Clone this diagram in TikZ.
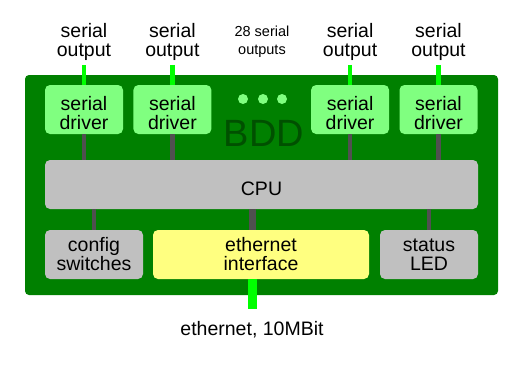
\documentclass[tikz,border=0pt]{standalone}
\usepackage{fontspec}
\setmainfont{Liberation Sans}
\usetikzlibrary{positioning}

\definecolor{boardgreen}{RGB}{0,128,0}
\definecolor{drvgreen}{RGB}{128,255,128}
\definecolor{wiregreen}{RGB}{0,255,0}
\definecolor{cpugray}{RGB}{192,192,192}
\definecolor{ethyellow}{RGB}{255,255,128}
\definecolor{busgray}{RGB}{80,80,80}
\definecolor{bddgreen}{RGB}{0,80,0}

\begin{document}
\begin{tikzpicture}[x=1pt, y=-1pt,
  board/.style={rectangle, fill=boardgreen, rounded corners=4pt, minimum width=473pt, minimum height=220pt},
  block/.style={rectangle, rounded corners=5pt, minimum height=49pt, inner sep=0pt, align=center,
    font=\fontsize{19.5}{19}\selectfont, execute at begin node={\rule{0pt}{#1}}},
  block/.default=0pt,
  drv/.style={block=41pt, fill=drvgreen, minimum width=78pt},
  part/.style={block=#1, fill=cpugray},
  part/.default=0pt,
  lbl/.style={align=center, inner xsep=0pt, inner ysep=4.5pt, font=\fontsize{19.5}{19}\selectfont},
  bus/.style={draw=busgray, line width=4.5pt},
  wire/.style={draw=wiregreen, line width=4.5pt}
]
\useasboundingbox (0,0) rectangle (530,370);

\node[board] (bdd) at (261.5,185) {};
\node[font=\fontsize{38}{38}\selectfont, text=bddgreen] (bddname) at (264,133) {BDD};
\foreach \x in {243,263,282}
  \fill[drvgreen] (\x,99) circle (5pt);

% serial drivers
\node[drv] (drv1) at (84,109.5) {serial\\driver};
\node[drv] (drv2) [right=10pt of drv1] {serial\\driver};
\node[drv] (drv4) at (438.5,109.5) {serial\\driver};
\node[drv] (drv3) [left=10pt of drv4] {serial\\driver};

\node[lbl] (out1) [above=20pt of drv1] {serial\\output};
\node[lbl] (out2) [above=20pt of drv2] {serial\\output};
\node[lbl] (out3) [above=20pt of drv3] {serial\\output};
\node[lbl] (out4) [above=20pt of drv4] {serial\\output};
\node[lbl, font=\fontsize{14.5}{18}\selectfont] (more) at (262,41.5) {28 serial\\outputs};

\foreach \n in {1,...,4} {
  \draw[wire] (out\n) -- (drv\n);
  \draw[bus] (drv\n) -- (drv\n |- bdd.center);
}

\node[part=22pt, minimum width=433pt] (cpu) at (261.5,184.5) {CPU};

% bottom row
\node[part, minimum width=98pt] (cfg) at (94,254.5) {config\\switches};
\node[block, fill=ethyellow, minimum width=216pt] (eth) at (261,254.5) {ethernet\\interface};
\node[part, minimum width=98pt] (led) at (429,254.5) {status\\LED};

\node[lbl, inner ysep=12pt] (ethlbl) [below=30pt of eth, xshift=-9pt] {ethernet, 10MBit};

\draw[bus] (cpu.south -| cfg) -- (cfg);
\draw[bus, line width=7pt] (ethlbl |- cpu.south) -- (ethlbl |- eth.north);
\draw[bus] (cpu.south -| led) -- (led);
\draw[wire, line width=9pt] (ethlbl |- eth.south) -- (ethlbl);

\end{tikzpicture}
\end{document}
